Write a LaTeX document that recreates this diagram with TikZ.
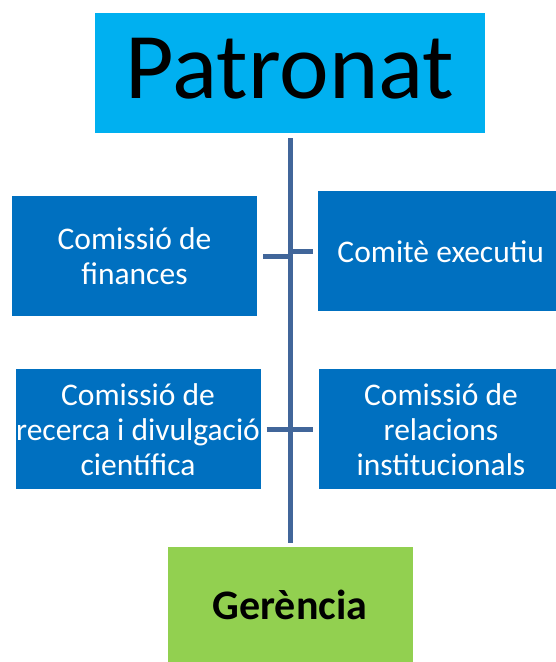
\documentclass[tikz,border=0pt]{standalone}
\usepackage{fontspec}
\setmainfont{Carlito}
\definecolor{patroncyan}{HTML}{00B0F0}
\definecolor{comblue}{HTML}{0070C0}
\definecolor{gergreen}{HTML}{92D050}
\definecolor{spineblue}{HTML}{41669A}
\begin{document}
\begin{tikzpicture}[x=1pt,y=-1pt,
    combox/.style={rectangle,fill=comblue,text=white,minimum width=245pt,minimum height=120pt,
      inner sep=0pt,align=center,font=\fontsize{31.5}{35}\selectfont},
    link/.style={draw=spineblue,line width=5pt}]
                \useasboundingbox (0,0) rectangle (555,662);
                \path (290,73) node[rectangle,fill=patroncyan,minimum width=390pt,minimum height=120pt,
                  text depth=9pt,font=\fontsize{94}{100}\selectfont] (patronat) {Patronat};
                \path (134.5,256) node[combox] (finances) {Comissió de\\finances};
                \path (440.7,251.4) node[combox] (executiu) {Comitè executiu};
                \path (138,429.3) node[combox] (recerca) {Comissió de\\recerca i divulgació\\científica};
                \path (441,429.3) node[combox] (relacions) {Comissió de\\relacions\\institucionals};
                \path (290,605) node[rectangle,fill=gergreen,minimum width=245pt,minimum height=116pt,
                  font=\fontsize{42}{46}\selectfont\bfseries] (gerencia) {Gerència};

                \begin{scope}[every path/.append style={link}]
                  \draw[shorten <=5pt,shorten >=4pt] (patronat.south) -- (patronat.south |- gerencia.north);
                  \draw[shorten <=6pt] (finances.east) -- (finances.east -| patronat.south);
                  \draw[shorten >=5pt] (executiu.west -| patronat.south) -- (executiu.west);
                  \draw[shorten <=6pt] (recerca.east) -- (recerca.east -| patronat.south);
                  \draw[shorten >=5pt] (relacions.west -| patronat.south) -- (relacions.west);
                \end{scope}
              \end{tikzpicture}
\end{document}
